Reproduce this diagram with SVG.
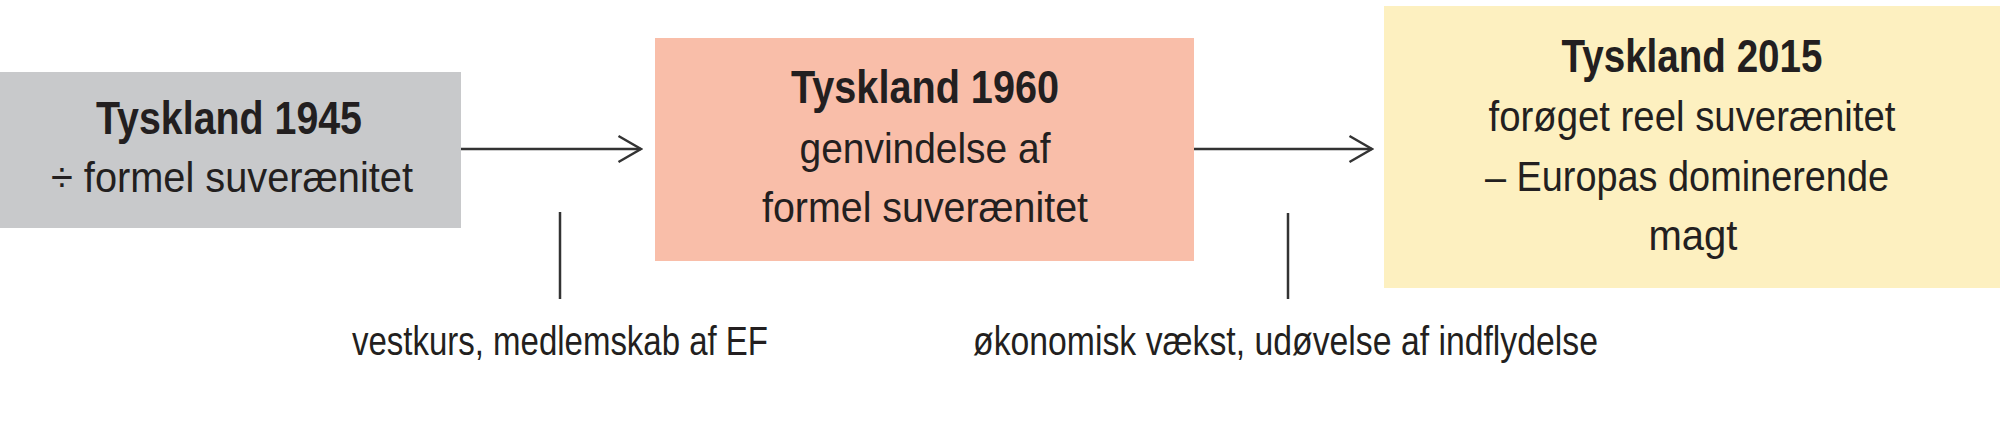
<svg xmlns="http://www.w3.org/2000/svg" width="2000" height="424" viewBox="0 0 2000 424">
  <style>
    text { font-family: "Liberation Sans Narrow", "Liberation Sans", Arial, sans-serif; fill: #231f20; }
    .title { font-size: 46px; font-weight: bold; text-anchor: middle; }
    .body { font-size: 43px; text-anchor: middle; }
    .label { font-size: 41px; }
    .conn { stroke: #333333; stroke-width: 2.5; fill: none; }
  </style>
  <defs>
    <marker id="arrow" markerUnits="userSpaceOnUse" viewBox="0 0 26 30" refX="24" refY="15" markerWidth="26" markerHeight="30" orient="auto">
      <path d="M1.5,2 L24,15 L1.5,28" fill="none" stroke="#333333" stroke-width="2.5"/>
    </marker>
  </defs>
  <rect width="2000" height="424" fill="#ffffff"/>

  <g id="node-1945">
    <rect x="0" y="72" width="461" height="156" fill="#c8c9cb"/>
    <text class="title" x="229" y="134" textLength="266" lengthAdjust="spacingAndGlyphs">Tyskland 1945</text>
    <text class="body" x="232" y="192" textLength="362" lengthAdjust="spacingAndGlyphs">÷ formel suverænitet</text>
  </g>

  <g id="node-1960">
    <rect x="655" y="38" width="539" height="223" fill="#f9bea9"/>
    <text class="title" x="925" y="103" textLength="268" lengthAdjust="spacingAndGlyphs">Tyskland 1960</text>
    <text class="body" x="925" y="163" textLength="251" lengthAdjust="spacingAndGlyphs">genvindelse af</text>
    <text class="body" x="925" y="222" textLength="326" lengthAdjust="spacingAndGlyphs">formel suverænitet</text>
  </g>

  <g id="node-2015">
    <rect x="1384" y="6" width="616" height="282" fill="#fdf0c0"/>
    <text class="title" x="1692" y="72" textLength="261" lengthAdjust="spacingAndGlyphs">Tyskland 2015</text>
    <text class="body" x="1692" y="131" textLength="407" lengthAdjust="spacingAndGlyphs">forøget reel suverænitet</text>
    <text class="body" x="1687" y="191" textLength="404" lengthAdjust="spacingAndGlyphs">– Europas dominerende</text>
    <text class="body" x="1693" y="250" textLength="89" lengthAdjust="spacingAndGlyphs">magt</text>
  </g>

  <g id="connectors">
    <line class="conn" x1="461" y1="149" x2="641" y2="149" marker-end="url(#arrow)"/>
    <line class="conn" x1="1194" y1="149" x2="1372" y2="149" marker-end="url(#arrow)"/>
    <line class="conn" x1="560" y1="212" x2="560" y2="299"/>
    <line class="conn" x1="1288" y1="213" x2="1288" y2="299"/>
  </g>

  <g id="label-vestkurs">
    <text class="label" x="352" y="355" textLength="416" lengthAdjust="spacingAndGlyphs">vestkurs, medlemskab af EF</text>
  </g>
  <g id="label-oekonomisk">
    <text class="label" x="973" y="355" textLength="625" lengthAdjust="spacingAndGlyphs">økonomisk vækst, udøvelse af indflydelse</text>
  </g>
</svg>
